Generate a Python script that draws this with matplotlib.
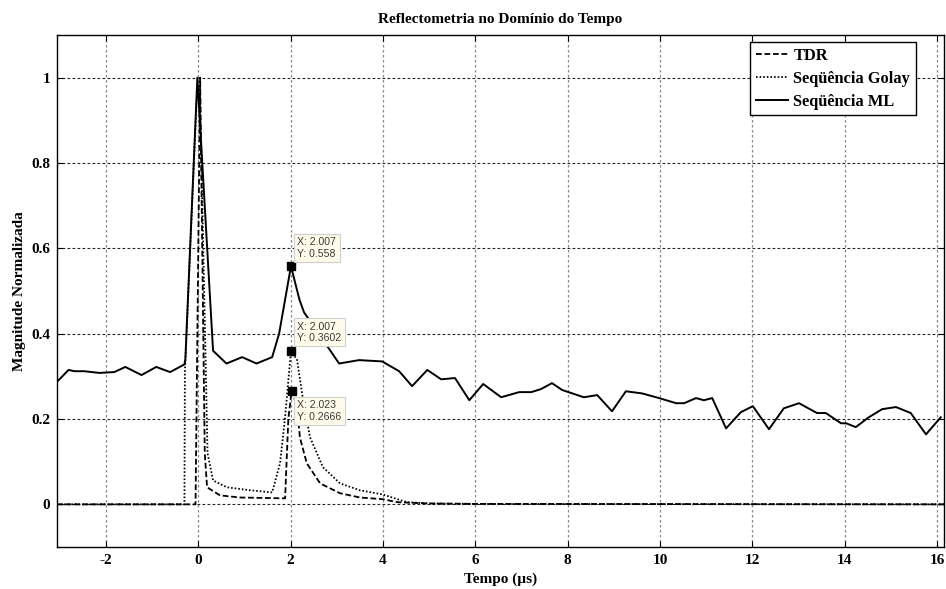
import matplotlib
matplotlib.use("Agg")
import matplotlib.pyplot as plt

# curves (time in microseconds, normalized magnitude)
tdr_t = [-3.06, -0.06, 0.04, 0.14, 0.19, 0.47, 0.90, 1.40, 1.88, 1.95, 2.023,
         2.14, 2.20, 2.35, 2.64, 3.07, 3.50, 4.00, 4.31, 5.00, 6.00, 16.15]
tdr_mag = [0.0, 0.0, 1.0, 0.12, 0.04, 0.021, 0.016, 0.015, 0.014, 0.20, 0.2666,
           0.23, 0.157, 0.096, 0.049, 0.026, 0.016, 0.012, 0.005, 0.002, 0.001, 0.0]

golay_t = [-3.06, -0.30, -0.29, -0.04, 0.0, 0.04, 0.20, 0.32, 0.62, 1.12, 1.60,
           1.77, 1.88, 2.007, 2.14, 2.27, 2.42, 2.70, 3.07, 3.50, 4.00, 4.31,
           4.52, 5.00, 6.00, 16.15]
golay_mag = [0.0, 0.0, 0.31, 0.94, 0.98, 0.95, 0.12, 0.056, 0.04, 0.033, 0.028,
             0.096, 0.204, 0.3602, 0.338, 0.244, 0.157, 0.087, 0.049, 0.033,
             0.023, 0.012, 0.005, 0.002, 0.001, 0.0]

ml_t = [-3.07, -2.81, -2.68, -2.47, -2.14, -1.82, -1.58, -1.23, -0.91, -0.61,
        -0.30, -0.28, -0.02, 0.32, 0.61, 0.95, 1.26, 1.60, 1.75, 2.007, 2.19,
        2.29, 3.05, 3.48, 3.98, 4.35, 4.63, 4.96, 5.26, 5.56, 5.87, 6.17, 6.56,
        6.95, 7.21, 7.42, 7.66, 7.88, 8.10, 8.35, 8.64, 8.96, 9.26, 9.61, 9.98,
        10.35, 10.52, 10.78, 10.95, 11.13, 11.43, 11.75, 12.01, 12.36, 12.68,
        13.01, 13.40, 13.59, 13.92, 14.03, 14.24, 14.52, 14.81, 15.11, 15.43,
        15.76, 16.08]
ml_mag = [0.286, 0.315, 0.312, 0.312, 0.308, 0.310, 0.322, 0.303, 0.322, 0.310,
          0.328, 0.340, 1.0, 0.360, 0.330, 0.345, 0.330, 0.345, 0.400, 0.558,
          0.480, 0.450, 0.330, 0.338, 0.335, 0.312, 0.277, 0.315, 0.293, 0.296,
          0.244, 0.282, 0.251, 0.263, 0.263, 0.270, 0.284, 0.268, 0.260, 0.251,
          0.256, 0.218, 0.265, 0.260, 0.249, 0.237, 0.237, 0.249, 0.244, 0.249,
          0.178, 0.216, 0.230, 0.176, 0.225, 0.237, 0.214, 0.214, 0.190, 0.190,
          0.181, 0.204, 0.223, 0.228, 0.214, 0.164, 0.204]

# data cursors
tips_x = [2.007, 2.007, 2.023]
tips_y = [0.558, 0.3602, 0.2666]
tips_txt = ["X: 2.007\nY: 0.558", "X: 2.007\nY: 0.3602", "X: 2.023\nY: 0.2666"]

x_ticks = [-2, 0, 2, 4, 6, 8, 10, 12, 14, 16]
y_ticks = [0, 0.2, 0.4, 0.6, 0.8, 1.0]
y_tick_labels = ["0", "0.2", "0.4", "0.6", "0.8", "1"]

serif = "Liberation Serif"

fig = plt.figure(figsize=(9.46, 5.89), dpi=100)
ax = fig.add_axes([57 / 946, 42 / 589, 887 / 946, 512 / 589])

ax.plot(tdr_t, tdr_mag, color="black", lw=1.3, linestyle=(0, (3.2, 1.5)), label="TDR")
ax.plot(golay_t, golay_mag, color="black", lw=1.3, linestyle=(0, (0.9, 1.1)),
        label="Seqüência Golay")
ax.plot(ml_t, ml_mag, color="black", lw=1.4, label="Seqüência ML")

ax.set_xlim(-3.06, 16.15)
ax.set_ylim(-0.1, 1.1)
ax.set_xticks(x_ticks)
ax.set_xticklabels([str(v) for v in x_ticks])
ax.set_yticks(y_ticks)
ax.set_yticklabels(y_tick_labels)

for lbl in ax.get_xticklabels() + ax.get_yticklabels():
    lbl.set_fontfamily(serif)
    lbl.set_fontweight("bold")
    lbl.set_fontsize(11)

ax.tick_params(direction="in", length=4, width=0.8, top=True, right=True, pad=5)
for sp in ax.spines.values():
    sp.set_linewidth(1.0)

ax.xaxis.grid(True, color="#888888", linestyle=(0, (2, 2)), lw=0.9)
ax.yaxis.grid(True, color="#222222", linestyle=(0, (2.5, 2)), lw=0.8)
ax.set_axisbelow(True)

ax.set_title("Reflectometria no Domínio do Tempo", fontfamily=serif,
             fontweight="bold", fontsize=11, pad=9)
ax.set_xlabel("Tempo (µs)", fontfamily=serif, fontweight="bold", fontsize=11, labelpad=4)
ax.set_ylabel("Magnitude Normalizada", fontfamily=serif, fontweight="bold",
              fontsize=11, labelpad=4)

leg = ax.legend(loc="upper right", bbox_to_anchor=(0.9684, 0.9863), frameon=True,
                fancybox=False, shadow=False, borderaxespad=0, handlelength=2.0,
                handletextpad=0.3, labelspacing=0.42, borderpad=0.35,
                prop={"family": serif, "weight": "bold", "size": 11.8})
leg.get_frame().set_edgecolor("black")
leg.get_frame().set_linewidth(1.0)
leg.get_frame().set_alpha(1)

# data tips
offsets = [(6.5, 7.5, "bottom"), (6.5, 7.5, "bottom"), (5.5, -9.5, "top")]
for x, y, txt, (dx, dy, va) in zip(tips_x, tips_y, tips_txt, offsets):
    ax.plot([x], [y], marker="s", ms=5.5, color="black", zorder=5)
    ax.annotate(txt, (x, y), xytext=(dx, dy), textcoords="offset pixels",
                ha="left", va=va, fontsize=7.6, fontfamily="Liberation Sans",
                color="#3a3a3a", linespacing=1.2, zorder=6,
                bbox=dict(boxstyle="square,pad=0.3", fc="#fffbea", ec="#cfcfcf", lw=0.8))

fig.savefig("out.png", dpi=100)
plt.close(fig)
